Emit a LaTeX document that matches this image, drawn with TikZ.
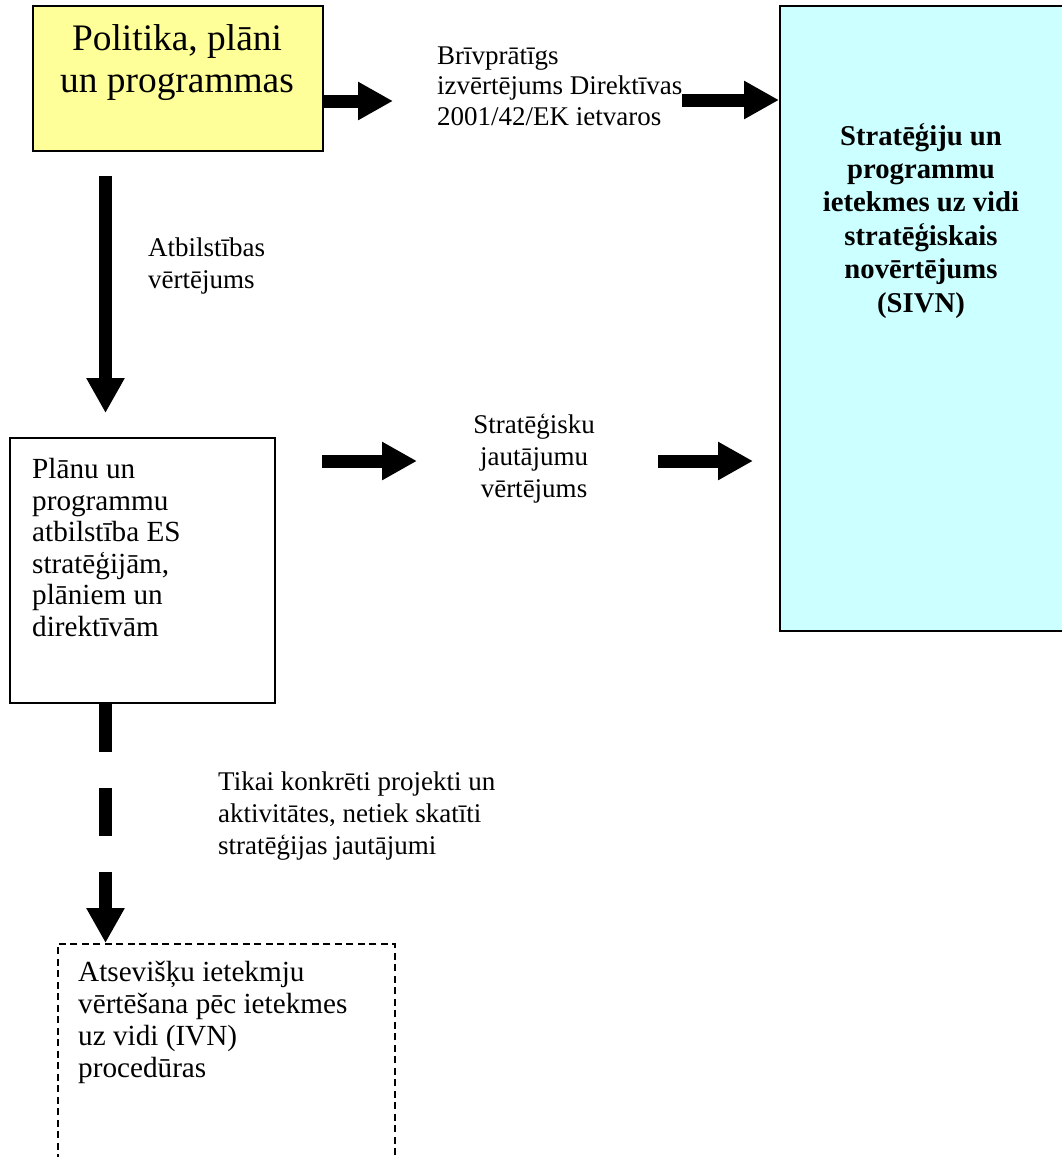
\documentclass[tikz,border=0pt]{standalone}
\usepackage{fontspec}
\setmainfont{Liberation Serif}
\usetikzlibrary{arrows.meta,calc}
\definecolor{yel}{HTML}{FFFF99}
\definecolor{cya}{HTML}{CCFFFF}
\begin{document}
\begin{tikzpicture}[x=1pt,y=-1pt,
  bigarrow/.style={line width=13pt,-{Triangle[length=35pt,width=36pt]}},
  body/.style={font=\fontsize{27}{32}\selectfont,inner sep=0pt,align=left},
  boxtext/.style={font=\fontsize{29.2}{32}\selectfont,inner sep=0pt,align=left},
  titletext/.style={font=\fontsize{37.4}{42}\selectfont,inner sep=0pt,align=center},
  boldtext/.style={font=\bfseries\fontsize{28.7}{33.4}\selectfont,inner sep=0pt,align=center},
  boxshape/.style={draw,line width=2pt,inner sep=0pt,anchor=north west}]
\useasboundingbox (0,0) rectangle (1061,1157);

% boxes
\node[boxshape,fill=yel,minimum width=290pt,minimum height=145pt] (pol) at (32,5) {};
\node[boxshape,fill=cya,minimum width=284pt,minimum height=625pt] (sivn) at (779,5) {};
\node[boxshape,minimum width=265pt,minimum height=265pt] (plan) at (9,437) {};
\node[boxshape,line width=1.5pt,dash pattern=on 7pt off 4.5pt,minimum width=337pt,minimum height=300pt] (ivn) at (57,943) {};

% texts (base anchor = baseline of the last line)
\node[titletext,anchor=base] (poltxt) at (177,92) {Politika, plāni\\un programmas};
\node[boldtext,anchor=base] (sivntxt) at (921,312) {Stratēģiju un\\programmu\\ietekmes uz vidi\\stratēģiskais\\novērtējums\\(SIVN)};
\node[body,font=\fontsize{27}{30.5}\selectfont,anchor=base west] (brtxt) at (437,125) {Brīvprātīgs\\izvērtējums Direktīvas\\2001/42/EK ietvaros};
\node[body,anchor=base west] (atbtxt) at (148,288) {Atbilstības\\vērtējums};
\node[boxtext,font=\fontsize{29.2}{31.5}\selectfont,anchor=base west] (plantxt) at (32,636) {Plānu un\\programmu\\atbilstība ES\\stratēģijām,\\plāniem un\\direktīvām};
\node[body,anchor=base,align=center] (strtxt) at (534,497) {Stratēģisku\\jautājumu\\vērtējums};
\node[body,anchor=base west] (tiktxt) at (218,854) {Tikai konkrēti projekti un\\aktivitātes, netiek skatīti\\stratēģijas jautājumi};
\node[boxtext,anchor=base west] (ivntxt) at (78,1077) {Atsevišķu ietekmju\\vērtēšana pēc ietekmes\\uz vidi (IVN)\\procedūras};

% helper coordinates
\coordinate (vx) at (105.5,0);
\coordinate (ya) at (0,101);
\coordinate (a1e) at (393,101);
\coordinate (a2s) at (682,100);
\coordinate (a3s) at (322,461);
\coordinate (a3e) at (417,461);
\coordinate (a4s) at (658,461);
\coordinate (a4e) at (753,461);

% connectors
\draw[bigarrow] (pol.east |- ya) -- (a1e);
\draw[bigarrow] (a2s) -- (sivn.west |- a2s);
\draw[bigarrow,shorten <=24pt,shorten >=24pt] (pol.south -| vx) -- (plan.north -| vx);
\draw[bigarrow] (a3s) -- (a3e);
\draw[bigarrow] (a4s) -- (a4e);
\draw[bigarrow,dash pattern=on 48pt off 36pt] (plan.south -| vx) -- (ivn.north -| vx);
\end{tikzpicture}
\end{document}
